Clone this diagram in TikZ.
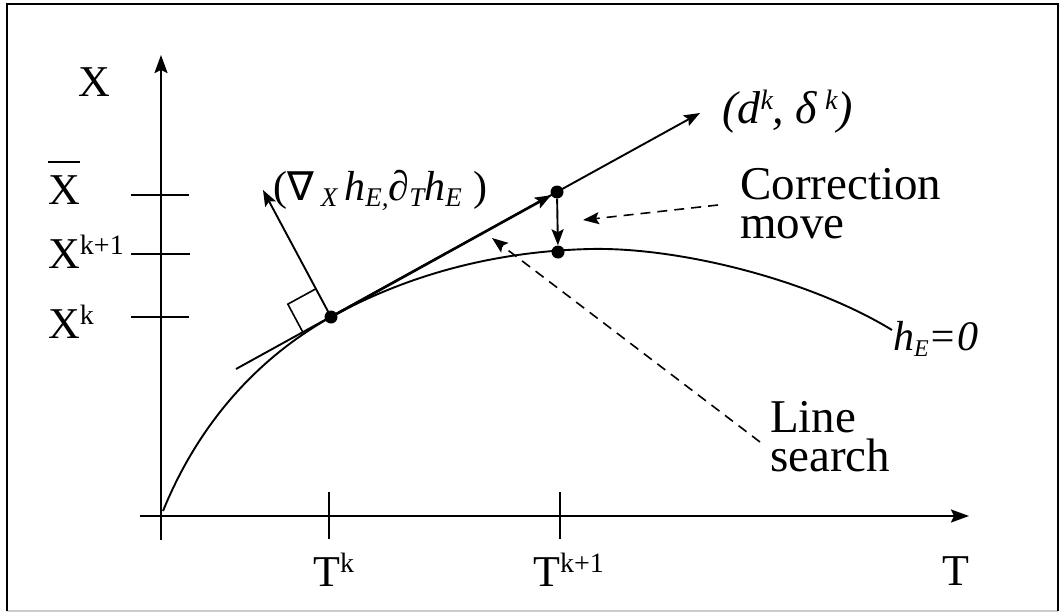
\documentclass[tikz,border=0pt]{standalone}
\usepackage{fontspec}
\setmainfont{Liberation Serif}
\newfontfamily\dvs{DejaVu Sans}
\usetikzlibrary{arrows.meta,calc}
\newcommand\supx[1]{\raisebox{14pt}{\fontsize{28}{28}\selectfont #1}}
\newcommand\subx[1]{\raisebox{-6pt}{\fontsize{24}{24}\selectfont\itshape #1}}
\newcommand\subg[1]{\raisebox{-6pt}{\fontsize{27}{27}\selectfont\itshape #1}}
\begin{document}
\begin{tikzpicture}[x=1pt,y=-1pt,
 ln/.style={line width=1.9pt},
 ax/.style={line width=2pt,-{Stealth[length=18pt,width=13pt,inset=3pt]}},
 arr/.style={line width=1.9pt,-{Stealth[length=16pt,width=12pt,inset=3pt]}},
 dsh/.style={line width=1.6pt,dash pattern=on 10pt off 7pt,-{Stealth[length=16pt,width=12pt,inset=3pt]}},
 dot/.style={circle,fill,inner sep=0pt,minimum size=13pt},
 lab/.style={inner sep=0pt,font=\fontsize{44}{44}\selectfont},
 txt/.style={inner sep=0pt,font=\fontsize{47}{39}\selectfont,align=left},
 tick/.style={line width=1.9pt},
]
\useasboundingbox (0,0) rectangle (1060,613);
% frame
\draw[line width=2pt,gray!40] (7,611) -- (1058,611);
\draw[line width=2.4pt] (7,611) -- (7,4) -- (1058,4) -- (1058,611);
% axes
\coordinate (ybot) at (161,540);
\coordinate (ytop) at (161,55);
\coordinate (xleft) at (140,516);
\coordinate (xright) at (969,516);
\draw[ax] (ybot) -- (ytop);
\draw[ax] (xleft) -- (xright);
% ticks
\draw[tick] (131,195) -- (189,195);
\draw[tick] (131,254) -- (190,254);
\draw[tick] (131,317) -- (189,317);
\draw[tick] (329,492) -- (329,539);
\draw[tick] (560,492) -- (560,539);
% axis labels
\node[lab,anchor=base] (xl) at (94,96) {X};
\node[lab,anchor=base west] (xbl) at (48,204) {X};
\draw[line width=1.6pt] ($(xbl.north west)+(0,-13)$) -- ($(xbl.north east)+(0,-13)$);
\node[lab,anchor=base west] (xk1l) at (48,268) {X\supx{k+1}};
\node[lab,anchor=base west] (xkl) at (48,338) {X\supx{k}};
\node[lab,anchor=base west] (tkl) at (313,586) {T\supx{k}};
\node[lab,anchor=base west] (tk1l) at (533,586) {T\supx{k+1}};
\node[lab,anchor=base west] (tl) at (942,585) {T};
% points
\node[dot] (pk) at (331,317) {};
\node[dot] (pbar) at (557,192) {};
\node[dot] (pk1) at (558,252) {};
% curve h_E = 0
\draw[ln] (163,511) .. controls (200,420) and (261,356) .. (pk.center)
  .. controls (420,268) and (510,251) .. (590,249)
  .. controls (680,247) and (810,280) .. (892,330);
% tangent and direction
\coordinate (tst) at (236,369);
\coordinate (dtip) at (700,113);
\draw[arr] (tst) -- (dtip);
\draw[arr,line width=2.6pt] (pk) -- (pbar);
\draw[arr] (pbar) -- (pk1);
% normal
\coordinate (ntip) at (263,190);
\draw[arr] (pk.center) -- (ntip);
\coordinate (c1) at ($(pk.center)!32pt!(tst)$);
\coordinate (c2) at ($(pk.center)!32pt!(ntip)$);
\draw[line width=1.6pt] (c1) -- ($(c1)+(c2)-(pk.center)$) -- (c2);
% labels
\node[anchor=base west,inner sep=0pt,font=\fontsize{46}{46}\selectfont\itshape] (dl) at (722,123) {(d\supx{k}, δ\,\supx{k})};
\node[anchor=base west,inner sep=0pt,font=\fontsize{42}{42}\selectfont] (gl) at (273,200) {({\dvs\fontsize{40}{40}\selectfont ∇}\,\subg{X}\,\textit{h}\subg{E,}\textit{∂}\subg{T}\textit{h}\subg{E}\;)};
\node[anchor=base west,inner sep=0pt,font=\fontsize{42}{42}\selectfont\itshape] (hl) at (893,350) {h\subx{E}=0};
\node[txt,anchor=base west] (cm) at (740,238) {Correction\\move};
\node[txt,anchor=base west] (ls) at (770,471) {Line\\search};
% dashed pointers
\coordinate (cs) at (718,205);
\coordinate (ce) at (583,220);
\draw[dsh] (cs) -- (ce);
\coordinate (lss) at (760,442);
\coordinate (lse) at (492,238);
\draw[dsh] (lss) -- (lse);
\end{tikzpicture}
\end{document}
